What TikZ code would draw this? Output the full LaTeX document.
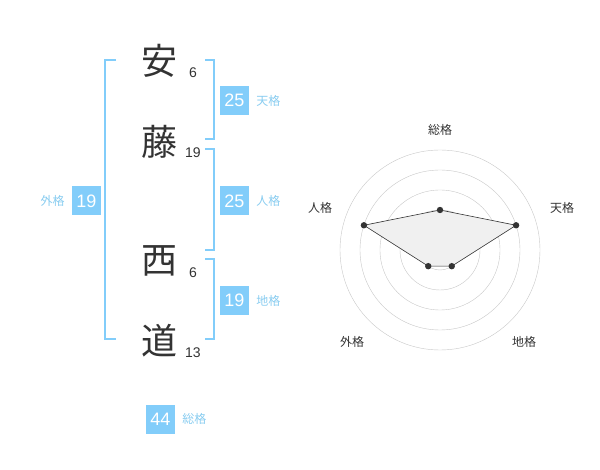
\documentclass[tikz,border=0pt]{standalone}
\usepackage{fontspec}
\usetikzlibrary{positioning,calc}
\setmainfont{Liberation Sans}
\newfontfamily\jpfont{Noto Sans CJK JP}
\definecolor{boxblue}{HTML}{82CDFA}
\definecolor{lblblue}{HTML}{88CCF0}
\definecolor{kanjigray}{HTML}{333333}
\begin{document}
\begin{tikzpicture}[x=1pt,y=-1pt,
  kanji/.style={font=\jpfont\fontsize{36}{36}\selectfont,text=kanjigray,inner sep=0pt},
  stroke/.style={font=\fontsize{14}{14}\selectfont,text=kanjigray,inner sep=0pt},
  score/.style={fill=boxblue,text=white,minimum size=29pt,inner sep=0pt,font=\fontsize{18}{18}\selectfont},
  kaku/.style={text=lblblue,font=\jpfont\fontsize{12}{12}\selectfont,inner sep=0pt},
  axis/.style={text=kanjigray,font=\jpfont\fontsize{12}{12}\selectfont,inner sep=0pt},
  bracket/.style={draw=boxblue,line width=1.6pt}]
  \useasboundingbox (0,0) rectangle (600,470);

  \node[kanji] (c1) at (159,61) {安};
  \node[kanji] (c2) at (159,142) {藤};
  \node[kanji] (c3) at (159,261) {西};
  \node[kanji] (c4) at (159,341) {道};
  \node[stroke] (s1) at (193,73) {6};
  \node[stroke] (s2) at (193,153) {19};
  \node[stroke] (s3) at (193,273) {6};
  \node[stroke] (s4) at (193,353) {13};

  \draw[bracket] (116,60) -- (105,60) -- (105,339) -- (116,339);
  \draw[bracket] (205,60) -- (214,60) -- (214,139) -- (205,139);
  \draw[bracket] (205,149) -- (214,149) -- (214,250) -- (205,250);
  \draw[bracket] (205,259) -- (214,259) -- (214,339) -- (205,339);

  \node[score] (ten) at (234.5,100.5) {25};
  \node[kaku,right=7pt of ten] (tenl) {天格};
  \node[score] (jin) at (234.5,201) {25};
  \node[kaku,right=7pt of jin] (jinl) {人格};
  \node[score] (chi) at (234.5,300.5) {19};
  \node[kaku,right=7pt of chi] (chil) {地格};
  \node[score] (gai) at (86.5,201) {19};
  \node[kaku,left=7pt of gai] (gail) {外格};
  \node[score] (sou) at (160.5,419) {44};
  \node[kaku,right=7pt of sou] (soul) {総格};

  \draw[black!22] (440,250) circle (20);
  \draw[black!22] (440,250) circle (40);
  \draw[black!22] (440,250) circle (60);
  \draw[black!22] (440,250) circle (80);
  \draw[black!22] (440,250) circle (100);
  \fill[black!25] (440,250) circle (3.5);

  \coordinate (psou) at ($(440,250)+(0,-40)$);
  \coordinate (pten) at ($(440,250)+({80*cos(18)},{-80*sin(18)})$);
  \coordinate (pchi) at ($(440,250)+({20*cos(54)},{20*sin(54)})$);
  \coordinate (pgai) at ($(440,250)+({-20*cos(54)},{20*sin(54)})$);
  \coordinate (pjin) at ($(440,250)+({-80*cos(18)},{-80*sin(18)})$);
  \fill[black!6] (psou) -- (pten) -- (pchi) -- (pgai) -- (pjin) -- cycle;
  \draw[kanjigray,line width=0.6pt] (psou) -- (pten) -- (pchi) -- (pgai) -- (pjin) -- cycle;
  \foreach \p in {psou,pten,pchi,pgai,pjin}
    \fill[kanjigray] (\p) circle (3.2);

  \node[axis] (lsou) at (440,130) {総格};
  \node[axis] (lten) at (562,208) {天格};
  \node[axis] (ljin) at (320,208) {人格};
  \node[axis] (lgai) at (352,342) {外格};
  \node[axis] (lchi) at (524,342) {地格};
\end{tikzpicture}
\end{document}
